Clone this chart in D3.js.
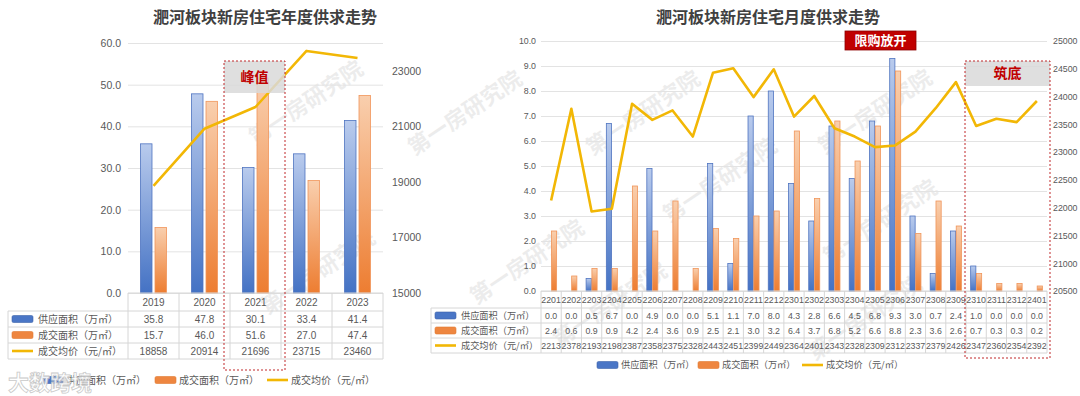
<!DOCTYPE html>
<html>
<head>
<meta charset="utf-8">
<script src="https://cdn.jsdelivr.net/npm/d3@7"></script>
<style>
  body { margin: 0; background: #fff; }
  svg { display: block; font-family: "Noto Sans CJK SC", "Noto Sans", sans-serif; }
  .num { font-family: "Liberation Sans", "Roboto", "Noto Sans", sans-serif; }
</style>
</head>
<body>
<svg id="chart" width="1080" height="396"></svg>
<script>
// yearly chart data
var years = ["2019", "2020", "2021", "2022", "2023"];
var yearSupply = [35.8, 47.8, 30.1, 33.4, 41.4];
var yearDeal = [15.7, 46.0, 51.6, 27.0, 47.4];
var yearPrice = [18858, 20914, 21696, 23715, 23460];
var yearLeftTicks = [0, 10, 20, 30, 40, 50, 60];
var yearRightTicks = [15000, 17000, 19000, 21000, 23000];

// monthly chart data
var months = ["2201", "2202", "2203", "2204", "2205", "2206", "2207", "2208", "2209", "2210", "2211", "2212",
              "2301", "2302", "2303", "2304", "2305", "2306", "2307", "2308", "2309", "2310", "2311", "2312", "2401"];
var monthSupply = [0.0, 0.0, 0.5, 6.7, 0.0, 4.9, 0.0, 0.0, 5.1, 1.1, 7.0, 8.0,
                   4.3, 2.8, 6.6, 4.5, 6.8, 9.3, 3.0, 0.7, 2.4, 1.0, 0.0, 0.0, 0.0];
var monthDeal = [2.4, 0.6, 0.9, 0.9, 4.2, 2.4, 3.6, 0.9, 2.5, 2.1, 3.0, 3.2,
                 6.4, 3.7, 6.8, 5.2, 6.6, 8.8, 2.3, 3.6, 2.6, 0.7, 0.3, 0.3, 0.2];
var monthPrice = [22130, 23780, 21930, 21980, 23870, 23580, 23750, 23280, 24430, 24510, 23990, 24490,
                  23640, 24010, 23430, 23280, 23090, 23120, 23370, 23790, 24260, 23470, 23600, 23540, 23920];
var monthLeftTicks = [0, 1, 2, 3, 4, 5, 6, 7, 8, 9, 10];
var monthRightTicks = [20500, 21000, 21500, 22000, 22500, 23000, 23500, 24000, 24500, 25000];

var seriesNames = ["供应面积（万㎡）", "成交面积（万㎡）", "成交均价（元/㎡）"];

var svg = d3.select("#chart");
var textColor = "#595959";
var gridColor = "#e3e3e3";
var lineColor = "#f2b705";

// bar gradients
var defs = svg.append("defs");
function grad(id, top, bottom) {
  var g = defs.append("linearGradient").attr("id", id)
    .attr("x1", 0).attr("y1", 0).attr("x2", 0).attr("y2", 1);
  g.append("stop").attr("offset", "0%").attr("stop-color", top);
  g.append("stop").attr("offset", "100%").attr("stop-color", bottom);
}
grad("gBlue", "#b9cbed", "#4472c4");
grad("gOrange", "#f9cfae", "#ed7d31");
var fills = ["url(#gBlue)", "url(#gOrange)"];
var strokes = ["#4f74c0", "#f0955a"];

// watermarks
var marks = [[306, 103], [318, 272], [465, 113], [643, 113], [875, 112],
             [720, 180], [527, 262], [880, 222], [865, 318], [610, 305]];
svg.append("g").selectAll("text").data(marks).enter().append("text")
  .attr("transform", function(d) { return "translate(" + d[0] + "," + d[1] + ") rotate(-34)"; })
  .attr("text-anchor", "middle").attr("dy", "0.35em")
  .style("font-size", "22px").style("font-weight", "bold")
  .style("fill", "#000").style("opacity", 0.07)
  .text("第一房研究院");

// draw one chart (plot + data table + legend)
function drawChart(o) {
  var g = svg.append("g");
  var x = d3.scaleBand().domain(o.cats).range([o.x0, o.x1]);
  var y = d3.scaleLinear().domain(o.yDomain).range([o.yBot, o.yTop]);
  var y2 = d3.scaleLinear().domain(o.y2Domain).range([o.yBot, o.yTop]);
  var mid = function(i) { return x(o.cats[i]) + x.bandwidth() / 2; };

  // title
  g.append("text").attr("x", o.titleX).attr("y", 23).attr("text-anchor", "middle")
    .style("font-size", "16px").style("font-weight", "bold").style("fill", "#404040")
    .text(o.title);

  // gridlines + left axis
  var grid = g.append("g").attr("transform", "translate(" + o.x0 + ",0)")
    .call(d3.axisLeft(y).tickValues(o.leftTicks).tickSize(-(o.x1 - o.x0)).tickPadding(o.leftPad)
      .tickFormat(d3.format(".1f")));
  grid.select(".domain").remove();
  grid.selectAll("line").attr("stroke", gridColor);
  grid.selectAll("text").attr("class", "num").style("font-size", o.axisFont).style("fill", textColor);

  var right = g.append("g").attr("transform", "translate(" + o.x1 + ",0)")
    .call(d3.axisRight(y2).tickValues(o.rightTicks).tickSize(0).tickPadding(o.rightPad)
      .tickFormat(d3.format("d")));
  right.select(".domain").remove();
  right.selectAll("text").attr("class", "num").style("font-size", o.axisFont).style("fill", textColor);

  // bars (zero values are not drawn)
  var bw = o.barW, gap = o.barGap;
  [o.supply, o.deal].forEach(function(vals, s) {
    var pts = vals.map(function(v, i) { return {v: v, i: i}; }).filter(function(d) { return d.v > 0; });
    g.append("g").selectAll("rect").data(pts).enter().append("rect")
      .attr("x", function(d) { return s === 0 ? mid(d.i) - gap / 2 - bw : mid(d.i) + gap / 2; })
      .attr("y", function(d) { return y(d.v); })
      .attr("width", bw)
      .attr("height", function(d) { return o.yBot - y(d.v); })
      .attr("fill", fills[s]).attr("stroke", strokes[s]).attr("stroke-width", 0.8);
  });

  // price line
  g.append("path").datum(o.price)
    .attr("d", d3.line()
      .x(function(d, i) { return mid(i); })
      .y(function(d) { return y2(d); }))
    .attr("fill", "none").attr("stroke", lineColor).attr("stroke-width", 2.6)
    .attr("stroke-linejoin", "round");

  // data table
  var t = g.append("g");
  var rowH = o.rowH, hdrB = o.yBot + o.hdrH;
  var border = "#d6d6d6";
  t.append("line").attr("x1", o.x0).attr("x2", o.x1).attr("y1", o.yBot).attr("y2", o.yBot).attr("stroke", border);
  for (var r = 0; r <= 3; r++) {
    t.append("line").attr("x1", o.tx).attr("x2", o.x1)
      .attr("y1", hdrB + r * rowH).attr("y2", hdrB + r * rowH).attr("stroke", border);
  }
  t.append("line").attr("x1", o.tx).attr("x2", o.tx).attr("y1", hdrB).attr("y2", hdrB + 3 * rowH).attr("stroke", border);
  t.selectAll(".vline").data(o.cats.concat(["end"])).enter().append("line")
    .attr("x1", function(d) { return d === "end" ? o.x1 : x(d); })
    .attr("x2", function(d) { return d === "end" ? o.x1 : x(d); })
    .attr("y1", o.yBot).attr("y2", hdrB + 3 * rowH).attr("stroke", border);

  t.selectAll(".hdr").data(o.cats).enter().append("text").attr("class", "num")
    .attr("x", function(d, i) { return mid(i); }).attr("y", o.yBot + o.hdrH / 2).attr("dy", "0.35em")
    .attr("text-anchor", "middle")
    .style("font-size", o.tableFont).style("fill", textColor).text(function(d) { return d; });

  var rows = [o.supply.map(d3.format(".1f")), o.deal.map(d3.format(".1f")), o.price.map(o.priceFmt)];
  rows.forEach(function(vals, r) {
    var cy = hdrB + r * rowH + rowH / 2;
    t.append("g").selectAll("text").data(vals).enter().append("text").attr("class", "num")
      .attr("x", function(d, i) { return mid(i); }).attr("y", cy).attr("dy", "0.35em")
      .attr("text-anchor", "middle")
      .style("font-size", o.tableFont).style("fill", textColor).text(function(d) { return d; });
    drawKey(t, r, o.tx + 4, cy, o.keyW);
    t.append("text").attr("x", o.tx + o.keyW + 9).attr("y", cy).attr("dy", "0.35em")
      .style("font-size", o.labelFont).style("fill", textColor).text(seriesNames[r]);
  });

  // legend
  o.legendX.forEach(function(lx, r) {
    drawKey(g, r, lx, o.legendY, o.keyW);
    g.append("text").attr("x", lx + o.keyW + 3).attr("y", o.legendY).attr("dy", "0.35em")
      .style("font-size", o.labelFont).style("fill", textColor).text(seriesNames[r]);
  });
  return {x: x, y: y, g: g};
}

function drawKey(g, r, kx, ky, w) {
  if (r < 2) {
    g.append("rect").attr("x", kx).attr("y", ky - 3.5).attr("width", w).attr("height", 7)
      .attr("rx", 1.5).attr("fill", r === 0 ? "#4a76c6" : "#ee8640")
      .attr("stroke", r === 0 ? "#3d63aa" : "#e07a30").attr("stroke-width", 0.6);
  } else {
    g.append("line").attr("x1", kx).attr("x2", kx + w).attr("y1", ky).attr("y2", ky)
      .attr("stroke", lineColor).attr("stroke-width", 2.6);
  }
}

// highlight box with grey band
function highlight(g, x0, x1, y0, y1, bandH, label) {
  g.append("rect").attr("x", x0).attr("y", y0).attr("width", x1 - x0).attr("height", bandH)
    .attr("fill", "#d9d9d9").attr("opacity", 0.85);
  g.append("rect").attr("x", x0).attr("y", y0).attr("width", x1 - x0).attr("height", y1 - y0)
    .attr("fill", "none").attr("stroke", "#c0292b").attr("stroke-width", 1).attr("stroke-dasharray", "2,2");
  g.append("text").attr("x", (x0 + x1) / 2).attr("y", y0 + bandH / 2).attr("dy", "0.35em")
    .attr("text-anchor", "middle").style("font-size", "14px").style("font-weight", "bold")
    .style("fill", "#c00000").text(label);
}

var left = drawChart({
  cats: years, supply: yearSupply, deal: yearDeal, price: yearPrice,
  x0: 128, x1: 383, yTop: 43, yBot: 293,
  yDomain: [0, 60], y2Domain: [15000, 24000],
  leftTicks: yearLeftTicks, rightTicks: yearRightTicks, leftPad: 7, rightPad: 9,
  title: "淝河板块新房住宅年度供求走势", titleX: 265,
  barW: 11.5, barGap: 3,
  hdrH: 18, rowH: 16, tx: 8, keyW: 21,
  axisFont: "10.5px", tableFont: "10px", labelFont: "10px",
  priceFmt: d3.format("d"),
  legendX: [42, 155, 267], legendY: 380
});
highlight(left.g, 224, 285, 61, 370, 32, "峰值");

var rightChart = drawChart({
  cats: months, supply: monthSupply, deal: monthDeal, price: monthPrice,
  x0: 541, x1: 1047, yTop: 41, yBot: 291,
  yDomain: [0, 10], y2Domain: [20500, 25000],
  leftTicks: monthLeftTicks, rightTicks: monthRightTicks, leftPad: 5, rightPad: 6,
  title: "淝河板块新房住宅月度供求走势", titleX: 768,
  barW: 5.2, barGap: 0.6,
  hdrH: 17, rowH: 15, tx: 431, keyW: 21,
  axisFont: "8.8px", tableFont: "8.8px", labelFont: "9.2px",
  priceFmt: function(d) { return String(d).slice(0, 4); },
  legendX: [597, 698, 802], legendY: 365
});
highlight(rightChart.g, 965, 1050, 61, 358, 25, "筑底");

// "限购放开" tag
var tag = rightChart.g.append("g");
tag.append("rect").attr("x", 845).attr("y", 31).attr("width", 71).attr("height", 19)
  .attr("fill", "#c00000").attr("stroke", "#8c0000").attr("stroke-width", 0.8);
tag.append("text").attr("x", 880.5).attr("y", 40.5).attr("dy", "0.35em").attr("text-anchor", "middle")
  .style("font-size", "13px").style("font-weight", "bold").style("fill", "#fff").text("限购放开");

// source watermark bottom-left
svg.append("text").attr("x", 8).attr("y", 390)
  .style("font-size", "21px").style("font-weight", "bold")
  .style("fill", "#fff").style("stroke", "#c4c4c4").style("stroke-width", 0.8).style("opacity", 0.9)
  .text("大数跨境");
</script>
</body>
</html>
